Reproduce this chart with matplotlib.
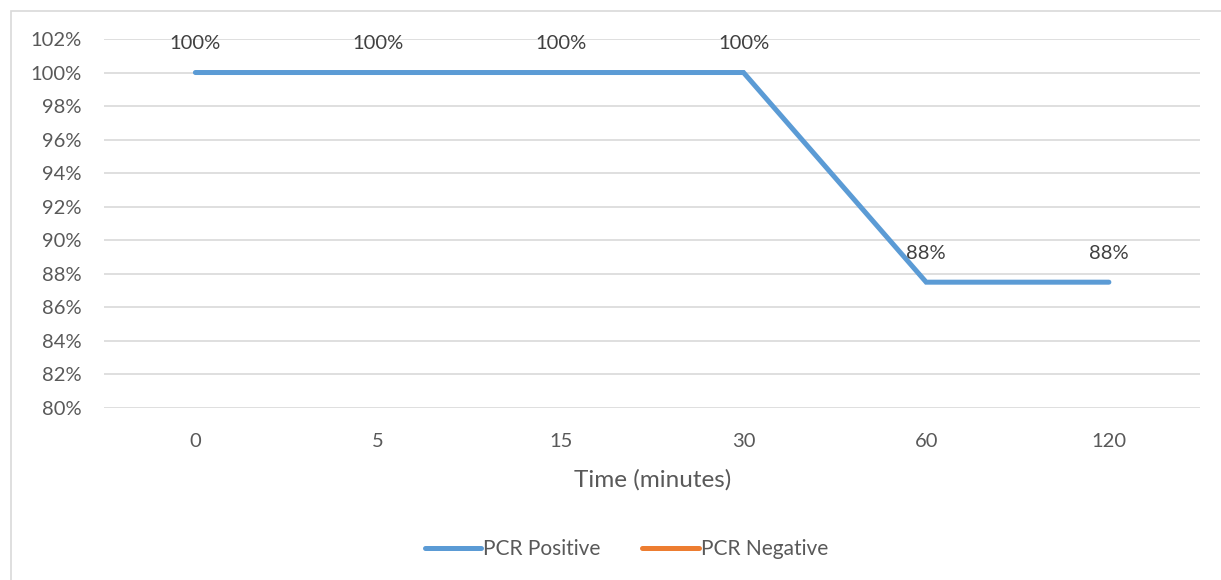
import matplotlib.pyplot as plt
import numpy as np

time_labels = ['0', '5', '15', '30', '60', '120']
pcr_positive = [1.0, 1.0, 1.0, 1.0, 0.875, 0.875]
pcr_negative = [0.0, 0.0, 0.0, 0.0, 0.0, 0.0]
y_ticks = [0.80, 0.82, 0.84, 0.86, 0.88, 0.90, 0.92, 0.94, 0.96, 0.98, 1.00, 1.02]

plt.rcParams['font.family'] = ['Lato', 'DejaVu Sans']
txt = '#595959'

fig = plt.figure(figsize=(12.21, 5.8), dpi=100)
ax = fig.add_axes([0.0852, 0.2966, 0.8978, 0.6362])

x = np.arange(len(time_labels))
ax.plot(x, pcr_positive, color='#5B9BD5', lw=3.6, solid_capstyle='round',
        solid_joinstyle='miter', label='PCR Positive', zorder=3)
ax.plot(x, pcr_negative, color='#ED7D31', lw=3.6, solid_capstyle='round',
        label='PCR Negative', zorder=3)

for xi, v in zip(x, pcr_positive):
    ax.annotate(f'{v:.0%}', (xi, v), xytext=(0, 21), textcoords='offset points',
                ha='center', va='center', fontsize=14.5, color='#404040')

ax.set_xlim(-0.5, len(time_labels) - 0.5)
ax.set_ylim(0.80, 1.02)
ax.set_yticks(y_ticks)
ax.set_yticklabels([f'{t:.0%}' for t in y_ticks])
ax.set_xticks(x)
ax.set_xticklabels(time_labels)
ax.tick_params(length=0, labelsize=14.5, colors=txt)
ax.tick_params(axis='x', pad=18)
ax.tick_params(axis='y', pad=16)
ax.grid(axis='y', color='#D9D9D9', lw=1.2)
ax.set_axisbelow(True)
for s in ax.spines.values():
    s.set_visible(False)
ax.set_xlabel('Time (minutes)', fontsize=17.5, color=txt, labelpad=14)

fig.legend(loc='center', bbox_to_anchor=(0.513, 0.053), ncol=2, frameon=False,
           fontsize=15, labelcolor=txt, handlelength=2.7, handletextpad=0.1,
           columnspacing=2.0)

# chart border
fig.add_artist(plt.Rectangle((11 / 1221, -0.1), 1.2, 1 - 11 / 580 + 0.1,
                             transform=fig.transFigure, fill=False,
                             edgecolor='#D9D9D9', lw=1.2))

fig.savefig('out.png', dpi=100)
